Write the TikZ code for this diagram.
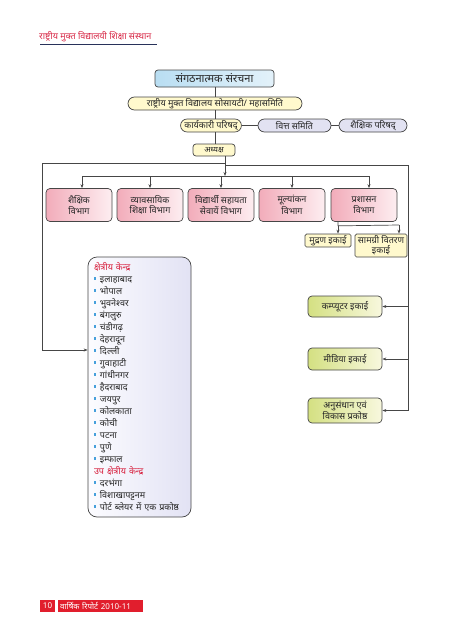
\documentclass[tikz,border=0pt]{standalone}
\usepackage{fontspec}
\newfontfamily\dev[Script=Devanagari]{Noto Sans}
\usetikzlibrary{shapes.misc,arrows.meta,calc}
\definecolor{hdrred}{RGB}{215,40,70}
\definecolor{hdrline}{RGB}{40,50,90}
\definecolor{bordergray}{RGB}{70,70,70}
\definecolor{titleblue}{RGB}{185,222,242}
\definecolor{soyellow}{RGB}{255,249,205}
\definecolor{lavender}{RGB}{226,226,242}
\definecolor{pinkL}{RGB}{242,172,186}
\definecolor{pinkR}{RGB}{253,238,241}
\definecolor{greenL}{RGB}{212,224,130}
\definecolor{greenR}{RGB}{248,248,222}
\definecolor{regL}{RGB}{252,252,255}
\definecolor{regR}{RGB}{226,226,244}
\definecolor{regred}{RGB}{215,30,60}
\definecolor{bulblue}{RGB}{70,160,220}
\definecolor{footred}{RGB}{225,30,45}
\newcommand\bl{\textcolor{bulblue}{\rule[3pt]{2.4pt}{2.4pt}}\hspace{3.5pt}}
\begin{document}
\begin{tikzpicture}[x=1pt,y=-1pt,
  every node/.style={font=\dev\fontsize{9}{10.5}\selectfont, inner sep=1pt, text=black!85},
  box/.style={draw=bordergray, line width=0.7pt, align=center},
  pillbox/.style={box, rounded rectangle, fill=soyellow},
  lavbox/.style={box, rounded rectangle, fill=lavender},
  deptbox/.style={box, rounded corners=4pt, left color=pinkL, right color=pinkR, minimum width=66pt, minimum height=33pt},
  unitbox/.style={box, rounded corners=1.5pt, fill=soyellow},
  greenbox/.style={box, rounded corners=4pt, left color=greenL, right color=greenR, minimum width=74pt},
  regbox/.style={box, rounded corners=9pt, left color=regL, right color=regR, minimum width=103pt, minimum height=260pt, text width=91pt, inner xsep=6pt, align=left, font=\dev\fontsize{9}{12}\selectfont},
  footbox/.style={fill=footred, text=white, minimum height=12pt, inner sep=0pt, font=\dev\fontsize{8}{9}\selectfont},
  conn/.style={draw=bordergray, line width=0.7pt},
  arr/.style={-{Stealth[length=4pt,width=3pt]}}
]
\useasboundingbox (0,0) rectangle (449,640);

% header
\node[anchor=west, text=hdrred, font=\dev\fontsize{9}{10}\selectfont] (hdr) at (38,37) {राष्ट्रीय मुक्त विद्यालयी शिक्षा संस्थान};
\draw[hdrline, line width=0.8pt] (40,44) -- (157,44);

% top chain
\node[box, rounded corners=3pt, left color=titleblue, right color=titleblue!40, minimum width=119pt, minimum height=17pt, font=\dev\fontsize{11}{13}\selectfont] (title) at (214.5,78.5) {संगठनात्मक संरचना};
\node[pillbox, minimum width=176pt, minimum height=13pt] (soc) at (215,103.5) {राष्ट्रीय मुक्त विद्यालय सोसायटी/ महासमिति};
\node[pillbox, minimum width=54pt, minimum height=13pt] (kary) at (211,125.5) {कार्यकारी परिषद्};
\node[lavbox, minimum width=75pt, minimum height=13pt] (vitt) at (294.5,125.5) {वित्त समिति};
\node[lavbox, minimum width=70pt, minimum height=13pt] (shp) at (373,125.5) {शैक्षिक परिषद्};
\node[box, rounded corners=3pt, fill=soyellow, minimum width=42pt, minimum height=12pt, font=\dev\fontsize{8}{9}\selectfont] (adh) at (214,150) {अध्यक्ष};

\draw[conn] (title.south -| soc.north) -- (soc.north);
\draw[conn] (soc.south) -- (soc.south |- kary.north);
\draw[conn] (kary.east) -- (vitt.west);
\draw[conn] (vitt.east) -- (shp.west);
\draw[conn] (kary.south -| soc.south) -- (adh.north -| soc.south);

% departments
\node[deptbox] (d1) at (79,205) {शैक्षिक\\विभाग};
\node[deptbox] (d2) at (150,205) {व्यावसायिक\\शिक्षा विभाग};
\node[deptbox] (d3) at (221,205) {विद्यार्थी सहायता\\सेवायें विभाग};
\node[deptbox] (d4) at (292,205) {मूल्यांकन\\विभाग};
\node[deptbox] (d5) at (364,205) {प्रशासन\\विभाग};

% units
\node[unitbox, minimum width=46pt, minimum height=13pt] (mud) at (328,240.5) {मुद्रण इकाई};
\node[unitbox, minimum width=52pt, minimum height=23pt, font=\dev\fontsize{9}{10}\selectfont] (sam) at (381,245.5) {सामग्री वितरण\\इकाई};
\node[greenbox, minimum height=21pt] (comp) at (345,306.5) {कम्प्यूटर इकाई};
\node[greenbox, minimum height=22pt] (media) at (345,359) {मीडिया इकाई};
\node[greenbox, minimum height=25pt, font=\dev\fontsize{9}{10.5}\selectfont] (anus) at (345,410.5) {अनुसंधान एवं\\विकास प्रकोष्ठ};

% regional centres
\node[regbox] (reg) at (139.5,387) {%
\textcolor{regred}{क्षेत्रीय केन्द्र}\\
\bl इलाहाबाद\\
\bl भोपाल\\
\bl भुवनेश्वर\\
\bl बंगलुरु\\
\bl चंडीगढ़\\
\bl देहरादून\\
\bl दिल्ली\\
\bl गुवाहाटी\\
\bl गांधीनगर\\
\bl हैदराबाद\\
\bl जयपुर\\
\bl कोलकाता\\
\bl कोची\\
\bl पटना\\
\bl पुणे\\
\bl इम्फाल\\
\textcolor{regred}{उप क्षेत्रीय केन्द्र}\\
\bl दरभंगा\\
\bl विशाखापट्टनम\\
\bl पोर्ट ब्लेयर में एक प्रकोष्ठ};

% connectors from adhyaksh
\coordinate (aout) at ($(adh.south)+(11,0)$);
\coordinate (busM) at (225,176);
\coordinate (jl) at (225,163);
\coordinate (lc) at (42,163);
\coordinate (jr) at (225,165);
\coordinate (rc) at (408,165);
\coordinate (rin) at ($(reg.west)+(0,-37)$);
\draw[conn,arr] (aout) -- (busM);
\draw[conn,arr] (jl) -- (lc) |- (rin);
\draw[conn] (jr) -- (rc) -- (rc |- anus.east);
\draw[conn,arr] (rc |- comp.east) -- (comp.east);
\draw[conn,arr] (rc |- media.east) -- (media.east);
\draw[conn,arr] (rc |- anus.east) -- (anus.east);

% bus to departments
\coordinate (b1) at ($(d1.north)+(3,0)$);
\coordinate (b5) at ($(d5.north)+(5,0)$);
\draw[conn] (b1 |- busM) -- (b5 |- busM);
\draw[conn,arr] (b1 |- busM) -- (b1);
\draw[conn,arr] (d2.north |- busM) -- (d2.north);
\draw[conn,arr] (d3.north |- busM) -- (d3.north);
\draw[conn,arr] (d4.north |- busM) -- (d4.north);
\draw[conn,arr] (b5 |- busM) -- (b5);

% prashasan to units
\coordinate (pb) at ($(d5.south)+(-26,0)$);
\coordinate (pj) at ($(pb)+(0,4)$);
\coordinate (sj) at (399,225);
\draw[conn] (pb) -- (pj) -- (sj);
\draw[conn,arr] (pj) -- (pj |- mud.north);
\draw[conn,arr] (sj) -- (sj |- sam.north);

% footer
\node[footbox, minimum width=15pt] (pg) at (47.5,606) {10};
\node[footbox, minimum width=85pt, anchor=west, align=left, text width=81pt, inner xsep=2pt] (yr) at (58,606) {वार्षिक रिपोर्ट 2010-11};
\end{tikzpicture}
\end{document}
